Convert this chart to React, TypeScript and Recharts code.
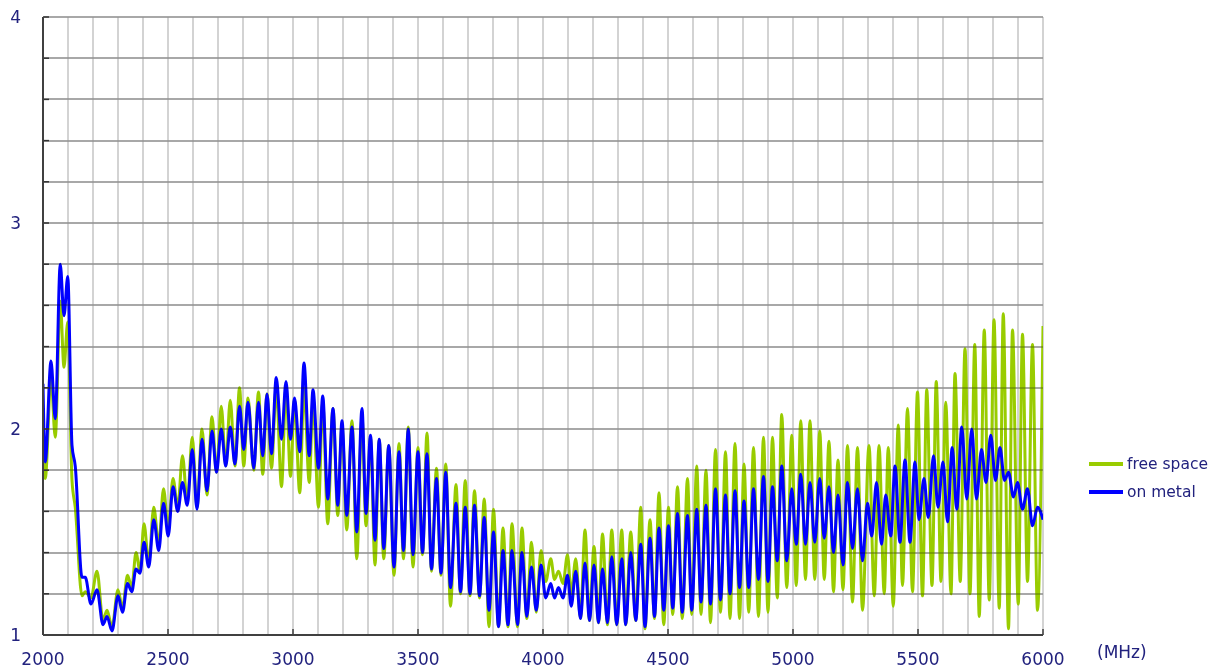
import React from 'react'
import { CartesianGrid, Legend, Line, LineChart, XAxis, YAxis } from 'recharts'

const TEXT = '#22227e'
const FONT = '"DejaVu Sans", Verdana, sans-serif'
const GRID = '#c8c8c8'

const W = 1218
const H = 670
const MARGIN = { top: 17, right: 175, bottom: 0, left: 0 }
const Y_AXIS_W = 43
const X_AXIS_H = 35
const PLOT_LEFT = MARGIN.left + Y_AXIS_W
const PLOT_W = W - MARGIN.right - PLOT_LEFT
const PLOT_TOP = MARGIN.top
const PLOT_H = H - MARGIN.top - X_AXIS_H

const Y_MIN = 1
const Y_MAX = 4
const X_TICKS = [2000, 2500, 3000, 3500, 4000, 4500, 5000, 5500, 6000]
const Y_TICKS = [1, 1.2, 1.4, 1.6, 1.8, 2, 2.2, 2.4, 2.6, 2.8, 3, 3.2, 3.4, 3.6, 3.8, 4]
const GRID_X = [
  2000, 2100, 2200, 2300, 2400, 2500, 2600, 2700, 2800, 2900, 3000, 3100, 3200, 3300,
  3400, 3500, 3600, 3700, 3800, 3900, 4000, 4100, 4200, 4300, 4400, 4500, 4600, 4700,
  4800, 4900, 5000, 5100, 5200, 5300, 5400, 5500, 5600, 5700, 5800, 5900, 6000,
]

// on metal (blue): peaks and troughs
const METAL_FREQ = [
  2000, 2009, 2032, 2049, 2069, 2084, 2099, 2116, 2129, 2156, 2169, 2192,
  2216, 2240, 2256, 2276, 2300, 2318, 2338, 2355, 2372, 2388, 2404, 2423,
  2443, 2463, 2482, 2501, 2520, 2539, 2558, 2577, 2597, 2616, 2636, 2656,
  2676, 2694, 2713, 2731, 2749, 2768, 2786, 2803, 2820, 2843, 2862, 2879,
  2896, 2914, 2933, 2954, 2972, 2990, 3006, 3027, 3044, 3065, 3080, 3102,
  3119, 3139, 3160, 3179, 3196, 3215, 3236, 3255, 3276, 3292, 3310, 3328,
  3345, 3363, 3383, 3404, 3424, 3442, 3461, 3480, 3500, 3518, 3536, 3554,
  3574, 3592, 3611, 3630, 3652, 3670, 3689, 3708, 3726, 3746, 3765, 3784,
  3802, 3822, 3840, 3860, 3876, 3898, 3916, 3935, 3954, 3973, 3992, 4011,
  4031, 4046, 4062, 4080, 4098, 4113, 4131, 4150, 4168, 4186, 4204, 4222,
  4238, 4258, 4275, 4295, 4315, 4331, 4351, 4371, 4391, 4408, 4428, 4446,
  4464, 4483, 4502, 4519, 4538, 4557, 4578, 4595, 4615, 4632, 4652, 4670,
  4690, 4710, 4730, 4748, 4768, 4786, 4804, 4823, 4842, 4862, 4882, 4900,
  4918, 4937, 4955, 4975, 4995, 5013, 5031, 5050, 5068, 5087, 5107, 5125,
  5144, 5162, 5180, 5200, 5218, 5238, 5258, 5278, 5298, 5315, 5334, 5354,
  5371, 5391, 5408, 5428, 5448, 5468, 5488, 5504, 5524, 5541, 5562, 5580,
  5600, 5618, 5637, 5655, 5675, 5695, 5715, 5734, 5754, 5772, 5791, 5810,
  5828, 5846, 5862, 5882, 5898, 5918, 5938, 5958, 5978, 6000,
]
const ON_METAL = [
  2.22, 1.84, 2.33, 2.05, 2.80, 2.55, 2.74, 1.92, 1.82, 1.28, 1.28, 1.15,
  1.22, 1.05, 1.09, 1.02, 1.19, 1.11, 1.25, 1.21, 1.32, 1.30, 1.45, 1.33,
  1.56, 1.41, 1.64, 1.48, 1.72, 1.60, 1.74, 1.63, 1.90, 1.61, 1.95, 1.70,
  1.99, 1.79, 2.00, 1.82, 2.01, 1.83, 2.11, 1.90, 2.13, 1.81, 2.13, 1.87,
  2.17, 1.88, 2.25, 1.95, 2.23, 1.95, 2.15, 1.89, 2.32, 1.87, 2.19, 1.81,
  2.16, 1.66, 2.10, 1.63, 2.04, 1.58, 2.01, 1.50, 2.10, 1.59, 1.97, 1.46,
  1.95, 1.42, 1.92, 1.33, 1.89, 1.41, 2.00, 1.39, 1.89, 1.40, 1.88, 1.32,
  1.76, 1.30, 1.79, 1.23, 1.64, 1.21, 1.62, 1.20, 1.63, 1.19, 1.57, 1.12,
  1.50, 1.04, 1.41, 1.05, 1.41, 1.05, 1.40, 1.09, 1.33, 1.12, 1.34, 1.18,
  1.25, 1.18, 1.23, 1.18, 1.29, 1.14, 1.31, 1.08, 1.35, 1.07, 1.34, 1.06,
  1.32, 1.06, 1.38, 1.05, 1.37, 1.05, 1.40, 1.07, 1.44, 1.04, 1.47, 1.09,
  1.52, 1.12, 1.53, 1.13, 1.59, 1.11, 1.58, 1.12, 1.61, 1.16, 1.63, 1.15,
  1.71, 1.17, 1.68, 1.20, 1.70, 1.23, 1.65, 1.23, 1.71, 1.27, 1.77, 1.26,
  1.72, 1.36, 1.82, 1.36, 1.71, 1.44, 1.78, 1.44, 1.74, 1.45, 1.76, 1.47,
  1.72, 1.40, 1.68, 1.34, 1.74, 1.42, 1.71, 1.36, 1.64, 1.48, 1.74, 1.44,
  1.68, 1.48, 1.82, 1.45, 1.85, 1.45, 1.84, 1.56, 1.76, 1.57, 1.87, 1.62,
  1.84, 1.55, 1.91, 1.61, 2.01, 1.66, 2.00, 1.66, 1.90, 1.74, 1.97, 1.75,
  1.91, 1.75, 1.79, 1.67, 1.74, 1.61, 1.71, 1.53, 1.62, 1.56,
]

// free space (green): same peaks up to ~5280 MHz, then it drifts a little later
const FREE_FREQ = [
  2000, 2009, 2032, 2049, 2069, 2084, 2099, 2116, 2129, 2156, 2169, 2192,
  2216, 2240, 2256, 2276, 2300, 2318, 2338, 2355, 2372, 2388, 2404, 2423,
  2443, 2463, 2482, 2501, 2520, 2539, 2558, 2577, 2597, 2616, 2636, 2656,
  2676, 2694, 2713, 2731, 2749, 2768, 2786, 2803, 2820, 2843, 2862, 2879,
  2896, 2914, 2933, 2954, 2972, 2990, 3006, 3027, 3044, 3065, 3080, 3102,
  3119, 3139, 3160, 3179, 3196, 3215, 3236, 3255, 3276, 3292, 3310, 3328,
  3345, 3363, 3383, 3404, 3424, 3442, 3461, 3480, 3500, 3518, 3536, 3554,
  3574, 3592, 3611, 3630, 3652, 3670, 3689, 3708, 3726, 3746, 3765, 3784,
  3802, 3822, 3840, 3860, 3876, 3898, 3916, 3935, 3954, 3973, 3992, 4011,
  4031, 4046, 4062, 4080, 4098, 4113, 4131, 4150, 4168, 4186, 4204, 4222,
  4238, 4258, 4275, 4295, 4315, 4331, 4351, 4371, 4391, 4408, 4428, 4446,
  4464, 4483, 4502, 4519, 4538, 4557, 4578, 4595, 4615, 4632, 4652, 4670,
  4690, 4710, 4730, 4748, 4768, 4786, 4804, 4823, 4842, 4862, 4882, 4900,
  4918, 4937, 4955, 4975, 4995, 5013, 5031, 5050, 5068, 5087, 5107, 5125,
  5144, 5162, 5180, 5200, 5218, 5238, 5258, 5278, 5304, 5325, 5344, 5365,
  5381, 5401, 5421, 5438, 5458, 5478, 5498, 5518, 5535, 5556, 5573, 5592,
  5611, 5632, 5648, 5669, 5688, 5708, 5727, 5745, 5765, 5785, 5804, 5825,
  5841, 5862, 5878, 5901, 5918, 5938, 5958, 5978, 6000,
]
const FREE_SPACE = [
  1.95, 1.76, 2.25, 1.96, 2.62, 2.30, 2.52, 1.75, 1.62, 1.19, 1.21, 1.18,
  1.31, 1.07, 1.12, 1.04, 1.22, 1.13, 1.29, 1.23, 1.40, 1.31, 1.54, 1.35,
  1.62, 1.44, 1.71, 1.52, 1.76, 1.62, 1.87, 1.64, 1.96, 1.62, 2.00, 1.68,
  2.06, 1.79, 2.11, 1.82, 2.14, 1.82, 2.20, 1.82, 2.15, 1.80, 2.18, 1.78,
  2.17, 1.81, 2.20, 1.72, 2.20, 1.77, 2.14, 1.69, 2.20, 1.74, 2.14, 1.62,
  2.13, 1.54, 2.10, 1.58, 2.02, 1.51, 2.04, 1.37, 2.06, 1.53, 1.96, 1.34,
  1.95, 1.37, 1.92, 1.29, 1.93, 1.37, 2.01, 1.33, 1.91, 1.39, 1.98, 1.31,
  1.81, 1.29, 1.83, 1.14, 1.73, 1.20, 1.75, 1.19, 1.70, 1.18, 1.66, 1.04,
  1.61, 1.04, 1.52, 1.04, 1.54, 1.04, 1.52, 1.08, 1.45, 1.11, 1.41, 1.26,
  1.37, 1.27, 1.31, 1.25, 1.39, 1.20, 1.37, 1.08, 1.51, 1.07, 1.43, 1.06,
  1.49, 1.05, 1.51, 1.05, 1.51, 1.05, 1.50, 1.07, 1.62, 1.03, 1.56, 1.08,
  1.69, 1.05, 1.62, 1.10, 1.72, 1.08, 1.76, 1.10, 1.82, 1.10, 1.80, 1.06,
  1.90, 1.11, 1.89, 1.08, 1.93, 1.08, 1.83, 1.11, 1.91, 1.09, 1.96, 1.11,
  1.96, 1.18, 2.07, 1.23, 1.97, 1.24, 2.04, 1.27, 2.04, 1.27, 1.99, 1.27,
  1.94, 1.21, 1.85, 1.22, 1.92, 1.16, 1.91, 1.12, 1.92, 1.19, 1.92, 1.20,
  1.91, 1.14, 2.02, 1.24, 2.10, 1.21, 2.18, 1.19, 2.19, 1.24, 2.23, 1.26,
  2.13, 1.20, 2.27, 1.26, 2.39, 1.20, 2.41, 1.09, 2.48, 1.17, 2.53, 1.13,
  2.56, 1.03, 2.48, 1.15, 2.46, 1.26, 2.41, 1.12, 2.50,
]

// pixel rows of the 0.2 grid (same domain as the y axis), snapped to whole pixels
const GRID_Y_PX = Y_TICKS.map((v) => Math.round(PLOT_TOP + ((Y_MAX - v) / (Y_MAX - Y_MIN)) * PLOT_H))

function YTick({ x, y, payload }: any) {
  const v = Number(payload?.value)
  if (Math.abs(v - Math.round(v)) > 1e-6) return <g />
  return (
    <text x={x} y={y} dy="0.36em" textAnchor="end" fill={TEXT} fontSize={17} fontFamily={FONT}>
      {Math.round(v)}
    </text>
  )
}

function LegendBox({ payload }: any) {
  return (
    <div style={{ fontFamily: FONT, fontSize: 15.5, color: TEXT }}>
      {(payload ?? []).map((p: any) => (
        <div key={p.value} style={{ display: 'flex', alignItems: 'center', height: 28 }}>
          <span style={{ display: 'inline-block', width: 34, height: 3.5, background: p.color, marginRight: 4 }} />
          <span>{p.value}</span>
        </div>
      ))}
    </div>
  )
}

export default function App() {
  const freeData = FREE_FREQ.map((f, i) => ({ f, v: FREE_SPACE[i] }))
  const metalData = METAL_FREQ.map((f, i) => ({ f, v: ON_METAL[i] }))

  return (
    <div style={{ position: 'relative', width: W, height: H, background: '#fff', fontFamily: FONT }}>
      <style>{'body { margin: 0; }'}</style>
      <LineChart width={W} height={H} margin={MARGIN} style={{ fontFamily: FONT }}>
        <CartesianGrid stroke={GRID} strokeWidth={1.6} verticalValues={GRID_X} horizontalPoints={GRID_Y_PX} />
        <XAxis
          type="number"
          dataKey="f"
          domain={[2000, 6000]}
          ticks={X_TICKS}
          interval={0}
          allowDataOverflow
          height={X_AXIS_H}
          tickSize={-6}
          tickMargin={24}
          axisLine={{ stroke: '#404040', strokeWidth: 2 }}
          tickLine={{ stroke: '#404040', strokeWidth: 1.5 }}
          tick={{ fill: TEXT, fontSize: 17, fontFamily: FONT }}
        />
        <YAxis
          type="number"
          domain={[Y_MIN, Y_MAX]}
          ticks={Y_TICKS}
          interval={0}
          allowDataOverflow
          width={Y_AXIS_W}
          tickSize={-6}
          tickMargin={28}
          axisLine={{ stroke: '#404040', strokeWidth: 2 }}
          tickLine={{ stroke: '#404040', strokeWidth: 1.5 }}
          tick={<YTick />}
        />
        <Legend
          layout="vertical"
          align="center"
          verticalAlign="middle"
          content={<LegendBox />}
          wrapperStyle={{ left: 1089, top: 450, width: 129 }}
        />
        <Line data={freeData} dataKey="v" name="free space" type="monotone" stroke="#99cc00" strokeWidth={3}
          dot={false} activeDot={false} isAnimationActive={false} />
        <Line data={metalData} dataKey="v" name="on metal" type="monotone" stroke="#0000ff" strokeWidth={3}
          dot={false} activeDot={false} isAnimationActive={false} />
      </LineChart>
      {/* horizontal grid rows, multiplied over the chart so they read as if drawn beneath the lines */}
      <svg
        width={W}
        height={H}
        style={{ position: 'absolute', left: 0, top: 0, pointerEvents: 'none', mixBlendMode: 'multiply' }}
      >
        {GRID_Y_PX.slice(1).map((y) => (
          <rect key={y} x={PLOT_LEFT + 1} y={y - 1} width={PLOT_W - 1} height={2} fill={GRID} />
        ))}
      </svg>
      <span style={{ position: 'absolute', left: 1097, top: 644, fontSize: 17, lineHeight: '17px', color: TEXT }}>(MHz)</span>
    </div>
  )
}
